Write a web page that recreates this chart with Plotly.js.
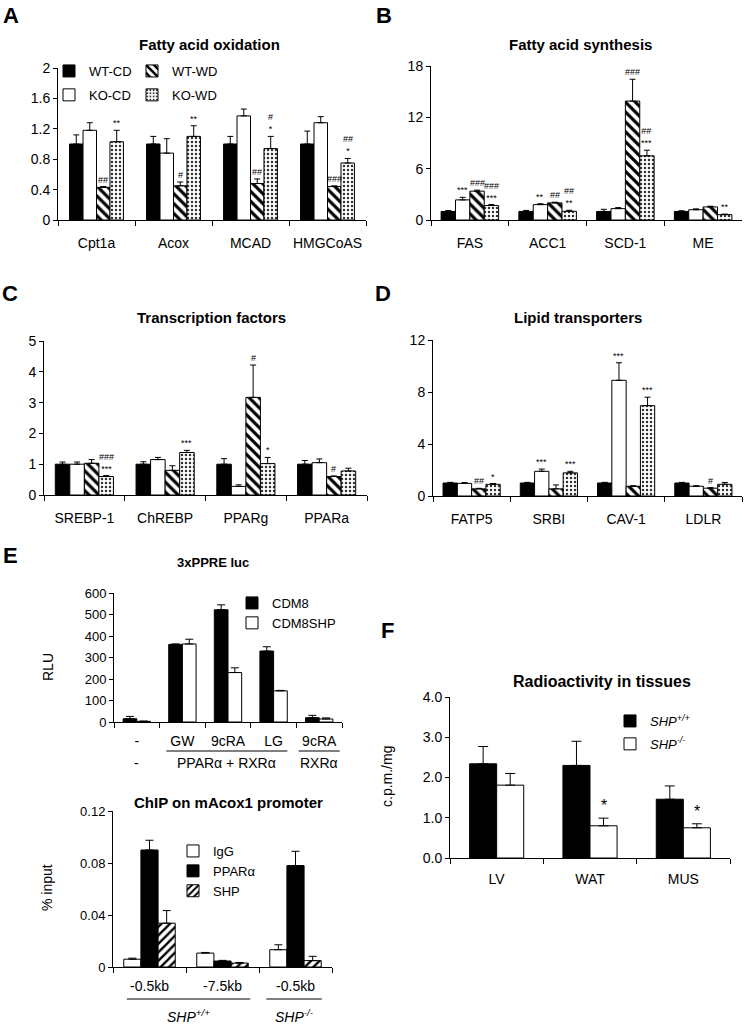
<!DOCTYPE html>
<html><head><meta charset="utf-8">
<script src="https://cdn.plot.ly/plotly-3.0.1.min.js"></script>
<style>body{margin:0;background:#fff}#chart{width:745px;height:1024px}</style>
</head><body><div id="chart"></div>
<script>
// ---------------- DATA ----------------
// Panel A: Fatty acid oxidation
const faoGenes = ['Cpt1a','Acox','MCAD','HMGCoAS'];
const faoWTCD = [1.00,1.00,1.00,1.00];
const faoWTCDErr = [0.12,0.10,0.10,0.17];
const faoKOCD = [1.18,0.88,1.37,1.28];
const faoKOCDErr = [0.10,0.19,0.09,0.08];
const faoWTWD = [0.43,0.45,0.48,0.44];
const faoWTWDErr = [0.01,0.05,0.06,0.01];
const faoKOWD = [1.03,1.10,0.94,0.75];
const faoKOWDErr = [0.15,0.14,0.16,0.06];
const faoSigWTWD = ['##','#','##','###'];
const faoSigKOWD = ['**','**','#<br>*','##<br>*'];

// Panel B: Fatty acid synthesis
const fasGenes = ['FAS','ACC1','SCD-1','ME'];
const fasWTCD = [1.00,1.00,1.00,1.00];
const fasWTCDErr = [0.10,0.12,0.25,0.08];
const fasKOCD = [2.35,1.80,1.33,1.20];
const fasKOCDErr = [0.30,0.10,0.12,0.10];
const fasWTWD = [3.37,2.00,13.90,1.53];
const fasWTWDErr = [0.12,0.08,2.55,0.08];
const fasKOWD = [1.69,1.02,7.50,0.63];
const fasKOWDErr = [0.12,0.12,0.66,0.06];
const fasSigKOCD = ['***','**','',''];
const fasSigWTWD = ['###','##','###',''];
const fasSigKOWD = ['###<br>***','##<br>**','##<br>***','**'];

// Panel C: Transcription factors
const tfGenes = ['SREBP-1','ChREBP','PPARg','PPARa'];
const tfWTCD = [1.00,1.00,1.00,1.00];
const tfWTCDErr = [0.07,0.08,0.18,0.12];
const tfKOCD = [1.00,1.15,0.28,1.05];
const tfKOCDErr = [0.07,0.07,0.05,0.12];
const tfWTWD = [1.03,0.80,3.17,0.60];
const tfWTWDErr = [0.12,0.15,1.05,0.02];
const tfKOWD = [0.60,1.38,1.02,0.78];
const tfKOWDErr = [0.03,0.07,0.20,0.09];
const tfSigWTWD = ['','','#','#'];
const tfSigKOWD = ['###<br>***','***','*',''];

// Panel D: Lipid transporters
const ltGenes = ['FATP5','SRBI','CAV-1','LDLR'];
const ltWTCD = [1.00,1.00,1.00,1.00];
const ltWTCDErr = [0.05,0.05,0.05,0.05];
const ltKOCD = [0.97,1.90,8.90,0.75];
const ltKOCDErr = [0.06,0.17,1.35,0.04];
const ltWTWD = [0.55,0.55,0.75,0.60];
const ltWTWDErr = [0.04,0.30,0.04,0.04];
const ltKOWD = [0.90,1.78,6.95,0.90];
const ltKOWDErr = [0.06,0.12,0.65,0.14];
const ltSigKOCD = ['','***','***',''];
const ltSigWTWD = ['##','','','#'];
const ltSigKOWD = ['*','***','***',''];

// Panel E (top): 3xPPRE luc
const lucLigands = ['-','GW','9cRA','LG','9cRA'];
const lucReceptors = ['-','PPARα + RXRα','RXRα'];
const lucCDM8 = [15,361,522,330,20];
const lucCDM8Err = [11,2,23,20,11];
const lucCDM8SHP = [3,363,230,145,14];
const lucCDM8SHPErr = [1,22,22,2,5];

// Panel E (bottom): ChIP on mAcox1 promoter
const chipSites = ['-0.5kb','-7.5kb','-0.5kb'];
const chipGenotypes = ['<i>SHP<sup>+/+</sup></i>','<i>SHP<sup>-/-</sup></i>'];
const chipIgG = [0.0060,0.0107,0.0133];
const chipIgGErr = [0.0008,0.0005,0.0038];
const chipPPARa = [0.0900,0.0046,0.0780];
const chipPPARaErr = [0.0075,0.0005,0.0110];
const chipSHP = [0.0337,0.0030,0.0049];
const chipSHPErr = [0.0097,0.0005,0.0033];

// Panel F: Radioactivity in tissues
const tissues = ['LV','WAT','MUS'];
const radWT = [2.34,2.30,1.46];
const radWTErr = [0.43,0.60,0.33];
const radKO = [1.81,0.80,0.75];
const radKOErr = [0.29,0.19,0.10];
const radSigKO = ['','*','*'];

// ---------------- BUILD ----------------
const W = 745, H = 1024;
const FONT = 'Liberation Sans, Arial, sans-serif';
const traces = [], annotations = [], shapes = [];
const layout = {
  width: W, height: H, margin: {l:0, r:0, t:0, b:0},
  paper_bgcolor: '#fff', plot_bgcolor: 'rgba(0,0,0,0)',
  font: {family: FONT, color: '#000', size: 13},
  barmode: 'group', showlegend: true,
  annotations, shapes
};

const ST = {
  black: {color:'#000', line:{color:'#000', width:1}},
  white: {color:'#fff', line:{color:'#000', width:1}},
  back:  {color:'#fff', line:{color:'#000', width:1}, pattern:{shape:'\\', fgcolor:'#000', bgcolor:'#fff', size:7, solidity:0.45}},
  fwd:   {color:'#fff', line:{color:'#000', width:1}, pattern:{shape:'/', fgcolor:'#000', bgcolor:'#fff', size:6, solidity:0.4}},
  dots:  {color:'#fff', line:{color:'#000', width:1}, pattern:{shape:'.', fgcolor:'#333', bgcolor:'#fff', size:4, solidity:0.3}}
};

function addAxes(ax, x0, x1, y0, y1, range, dtick, o) {
  o = o || {};
  layout['xaxis'+ax] = Object.assign({
    domain:[x0/W, x1/W], anchor:'y'+ax, type:'category', range:[-0.5, o.n-0.5],
    showline:true, linecolor:'#000', linewidth:1, ticks:'outside', tickson:'boundaries',
    ticklen:5, tickwidth:1, tickcolor:'#000', showgrid:false, zeroline:false, tickangle:0,
    tickfont:{size:o.xfs||14}, ticklabelstandoff:(o.xso!==undefined?o.xso:10), fixedrange:true
  }, o.x||{});
  layout['yaxis'+ax] = Object.assign({
    domain:[1-y0/H, 1-y1/H], anchor:'x'+ax, range:range, tickmode:'linear', tick0:0, dtick:dtick,
    showline:true, linecolor:'#000', linewidth:1, ticks:'outside', ticklen:4, tickwidth:1, tickcolor:'#000',
    showgrid:false, zeroline:false, tickfont:{size:o.yfs||14}, fixedrange:true
  }, o.y||{});
}

function addBars(ax, cats, series, w, capw, sigFont) {
  const n = series.length;
  series.forEach((s, j) => {
    const off = -n*w/2 + j*w;
    const tr = {
      type:'bar', x:cats, y:s.vals, name:s.name, xaxis:'x'+ax, yaxis:'y'+ax,
      width:w, offset:off, marker:s.style,
      error_y:{type:'data', symmetric:false, array:s.errs, arrayminus:s.errs.map(()=>0),
               color:'#000', thickness:1, width:capw},
      showlegend: !!s.legend, legend: s.legend || 'legend', hoverinfo:'skip'
    };
    if (s.legend) tr.legendgroup = ax + '_' + j;
    traces.push(tr);
    if (s.sig) s.sig.forEach((t, i) => {
      if (!t) return;
      annotations.push({xref:'x'+ax, yref:'y'+ax, x:i+off+w/2, y:s.vals[i]+s.errs[i],
        text:t, showarrow:false, yanchor:'bottom', yshift:(sigFont&&sigFont.shift)||0,
        font:{size:(sigFont&&sigFont.size)||9}});
    });
  });
}

function label(x, y, text, size, extra) {
  annotations.push(Object.assign({xref:'paper', yref:'paper', x:x/W, y:1-y/H, text:text,
    showarrow:false, xanchor:'center', yanchor:'middle', font:{size:size}}, extra||{}));
}

// Panel A
addAxes('', 58, 366, 220, 68, [0,2], 0.4, {n:4});
addBars('', faoGenes, [
  {name:'WT-CD', vals:faoWTCD, errs:faoWTCDErr, style:ST.black, legend:'legend'},
  {name:'KO-CD', vals:faoKOCD, errs:faoKOCDErr, style:ST.white, legend:'legend'},
  {name:'WT-WD', vals:faoWTWD, errs:faoWTWDErr, style:ST.back, legend:'legend2', sig:faoSigWTWD},
  {name:'KO-WD', vals:faoKOWD, errs:faoKOWDErr, style:ST.dots, legend:'legend2', sig:faoSigKOWD}
], 0.175, 3);

// Panel B
addAxes('2', 431, 742, 220, 66, [0,18], 6, {n:4});
addBars('2', fasGenes, [
  {name:'WT-CD', vals:fasWTCD, errs:fasWTCDErr, style:ST.black},
  {name:'KO-CD', vals:fasKOCD, errs:fasKOCDErr, style:ST.white, sig:fasSigKOCD},
  {name:'WT-WD', vals:fasWTWD, errs:fasWTWDErr, style:ST.back, sig:fasSigWTWD},
  {name:'KO-WD', vals:fasKOWD, errs:fasKOWDErr, style:ST.dots, sig:fasSigKOWD}
], 0.185, 3);

// Panel C
addAxes('3', 44, 367, 495, 341, [0,5], 1, {n:4});
addBars('3', tfGenes, [
  {name:'WT-CD', vals:tfWTCD, errs:tfWTCDErr, style:ST.black},
  {name:'KO-CD', vals:tfKOCD, errs:tfKOCDErr, style:ST.white},
  {name:'WT-WD', vals:tfWTWD, errs:tfWTWDErr, style:ST.back, sig:tfSigWTWD},
  {name:'KO-WD', vals:tfKOWD, errs:tfKOWDErr, style:ST.dots, sig:tfSigKOWD}
], 0.18, 3);

// Panel D
addAxes('4', 433, 742, 496, 340, [0,12], 4, {n:4});
addBars('4', ltGenes, [
  {name:'WT-CD', vals:ltWTCD, errs:ltWTCDErr, style:ST.black},
  {name:'KO-CD', vals:ltKOCD, errs:ltKOCDErr, style:ST.white, sig:ltSigKOCD},
  {name:'WT-WD', vals:ltWTWD, errs:ltWTWDErr, style:ST.back, sig:ltSigWTWD},
  {name:'KO-WD', vals:ltKOWD, errs:ltKOWDErr, style:ST.dots, sig:ltSigKOWD}
], 0.185, 3);

// Panel E top
const lucKeys = lucLigands.map((c,i)=>'k'+i);
addAxes('5', 114, 342, 722, 593, [0,600], 100, {n:5, xfs:14, yfs:13, xso:6,
  x:{tickmode:'array', tickvals:lucKeys, ticktext:lucLigands}});
addBars('5', lucKeys, [
  {name:'CDM8', vals:lucCDM8, errs:lucCDM8Err, style:ST.black, legend:'legend3'},
  {name:'CDM8SHP', vals:lucCDM8SHP, errs:lucCDM8SHPErr, style:ST.white, legend:'legend3'}
], 0.3, 4);
// receptor row
[[0,0,0],[1,0.65,3.3],[2,3.55,4.45]].forEach(([ri,a,b])=>{
  const xc = ri===0 ? 0 : (a+b)/2;
  annotations.push({xref:'x5', yref:'paper', x:xc, y:1-763/H, text:lucReceptors[ri], showarrow:false,
    yanchor:'middle', font:{size:14}});
  if (ri>0) shapes.push({type:'line', xref:'x5', yref:'paper', x0:a, x1:b, y0:1-751/H, y1:1-751/H,
    line:{color:'#000', width:1}});
});
label(48, 667, 'RLU', 14, {textangle:-90});

// Panel E bottom
const chipKeys = chipSites.map((c,i)=>'s'+i);
addAxes('6', 113, 332, 967, 811, [0,0.12], 0.04, {n:3, xfs:14, yfs:13, xso:6,
  x:{tickmode:'array', tickvals:chipKeys, ticktext:chipSites}});
addBars('6', chipKeys, [
  {name:'IgG', vals:chipIgG, errs:chipIgGErr, style:ST.white, legend:'legend4'},
  {name:'PPARα', vals:chipPPARa, errs:chipPPARaErr, style:ST.black, legend:'legend4'},
  {name:'SHP', vals:chipSHP, errs:chipSHPErr, style:ST.fwd, legend:'legend4'}
], 0.235, 4);
[[0,-0.31,1.38],[1,1.6,2.36]].forEach(([gi,a,b])=>{
  shapes.push({type:'line', xref:'x6', yref:'paper', x0:a, x1:b, y0:1-999/H, y1:1-999/H,
    line:{color:'#000', width:1}});
  annotations.push({xref:'x6', yref:'paper', x:(a+b)/2, y:1-1016/H, text:chipGenotypes[gi],
    showarrow:false, yanchor:'middle', font:{size:14}});
});
label(47, 888, '% input', 14, {textangle:-90});

// Panel F
addAxes('7', 450, 730, 858, 697, [0,4], 1, {n:3, xfs:14, yfs:14, xso:8, y:{tickformat:'.1f'}});
addBars('7', tissues, [
  {name:'<i>SHP<sup>+/+</sup></i>', vals:radWT, errs:radWTErr, style:ST.black, legend:'legend5'},
  {name:'<i>SHP<sup>-/-</sup></i>', vals:radKO, errs:radKOErr, style:ST.white, legend:'legend5', sig:radSigKO}
], 0.29, 5, {size:16, shift:2});
label(387, 777, 'c.p.m./mg', 14, {textangle:-90});

// Panel letters and titles
[['A',11,15],['B',384,15],['C',10,293],['D',383,293],['E',10,555],['F',387,630]].forEach(([t,x,y])=>
  label(x, y, '<b>'+t+'</b>', 22));
label(209, 44, '<b>Fatty acid oxidation</b>', 15);
label(580, 44, '<b>Fatty acid synthesis</b>', 15);
label(211, 317, '<b>Transcription factors</b>', 15);
label(578, 317, '<b>Lipid transporters</b>', 15);
label(213, 562, '<b>3xPPRE luc</b>', 13);
label(228, 802, '<b>ChIP on mAcox1 promoter</b>', 15);
label(602, 681, '<b>Radioactivity in tissues</b>', 16);

// Legends
const legBase = {xanchor:'left', yanchor:'top', bgcolor:'rgba(0,0,0,0)', borderwidth:0, font:{size:13}, orientation:'v'};
layout.legend  = Object.assign({}, legBase, {x:49/W, y:1-56/H, tracegroupgap:4});
layout.legend2 = Object.assign({}, legBase, {x:132/W, y:1-56/H, tracegroupgap:4});
layout.legend3 = Object.assign({}, legBase, {x:232/W, y:1-588/H, tracegroupgap:0});
layout.legend4 = Object.assign({}, legBase, {x:173/W, y:1-836/H, tracegroupgap:0});
layout.legend5 = Object.assign({}, legBase, {x:610/W, y:1-706/H, tracegroupgap:3});

Plotly.newPlot('chart', traces, layout, {displayModeBar:false, staticPlot:true});
</script>
</body></html>
